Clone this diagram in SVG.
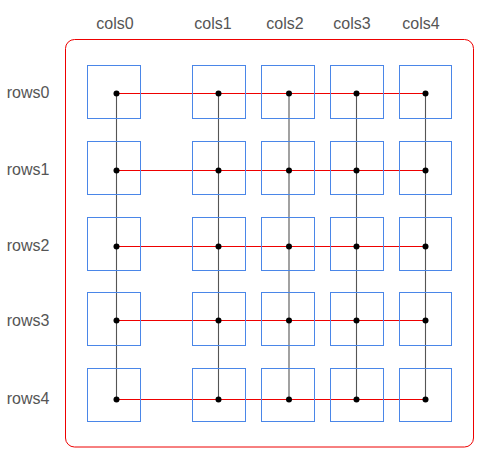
<svg xmlns="http://www.w3.org/2000/svg" width="488" height="463" viewBox="0 0 488 463">
<style>
.lbl{font-family:"Liberation Sans",Arial,sans-serif;font-size:16px;fill:#555;text-anchor:middle}
.box{fill:none;stroke:#4a86e8;stroke-width:1}
.h{stroke:#e00;stroke-width:1;fill:none}
.v{stroke:#555;stroke-width:1.1;fill:none}
.dot{fill:#000}
</style>
<rect id="container" x="65.5" y="39.5" width="408" height="407.5" rx="9" fill="none" stroke="#e00" stroke-width="1"/>
<g id="col-labels">
<text class="lbl" x="115" y="29">cols0</text>
<text class="lbl" x="213" y="29">cols1</text>
<text class="lbl" x="285" y="29">cols2</text>
<text class="lbl" x="352" y="29">cols3</text>
<text class="lbl" x="421" y="29">cols4</text>
</g>
<g id="row-labels">
<text class="lbl" x="28" y="98">rows0</text>
<text class="lbl" x="28" y="175">rows1</text>
<text class="lbl" x="28" y="251">rows2</text>
<text class="lbl" x="28" y="326">rows3</text>
<text class="lbl" x="28" y="404">rows4</text>
</g>
<g id="connectors">
<line class="h" x1="116" y1="93.5" x2="426" y2="93.5"/>
<line class="h" x1="116" y1="170.5" x2="426" y2="170.5"/>
<line class="h" x1="116" y1="246.5" x2="426" y2="246.5"/>
<line class="h" x1="116" y1="320.5" x2="426" y2="320.5"/>
<line class="h" x1="116" y1="399.5" x2="426" y2="399.5"/>
<line class="v" x1="116.5" y1="93" x2="116.5" y2="399"/>
<line class="v" x1="218.5" y1="93" x2="218.5" y2="399"/>
<line class="v" x1="289" y1="93" x2="289" y2="399"/>
<line class="v" x1="356.5" y1="93" x2="356.5" y2="399"/>
<line class="v" x1="425.5" y1="93" x2="425.5" y2="399"/>
</g>
<g id="nodes">
<g id="n00"><rect class="box" x="87.5" y="65.5" width="53" height="53"/><circle class="dot" cx="116.5" cy="93.5" r="3"/></g>
<g id="n01"><rect class="box" x="192.5" y="65.5" width="53" height="53"/><circle class="dot" cx="218.5" cy="93.5" r="3"/></g>
<g id="n02"><rect class="box" x="261.5" y="65.5" width="53" height="53"/><circle class="dot" cx="289" cy="93.5" r="3"/></g>
<g id="n03"><rect class="box" x="330.5" y="65.5" width="53" height="53"/><circle class="dot" cx="356.5" cy="93.5" r="3"/></g>
<g id="n04"><rect class="box" x="399.5" y="65.5" width="52" height="53"/><circle class="dot" cx="425.5" cy="93.5" r="3"/></g>
<g id="n10"><rect class="box" x="87.5" y="141.5" width="53" height="53"/><circle class="dot" cx="116.5" cy="170.5" r="3"/></g>
<g id="n11"><rect class="box" x="192.5" y="141.5" width="53" height="53"/><circle class="dot" cx="218.5" cy="170.5" r="3"/></g>
<g id="n12"><rect class="box" x="261.5" y="141.5" width="53" height="53"/><circle class="dot" cx="289" cy="170.5" r="3"/></g>
<g id="n13"><rect class="box" x="330.5" y="141.5" width="53" height="53"/><circle class="dot" cx="356.5" cy="170.5" r="3"/></g>
<g id="n14"><rect class="box" x="399.5" y="141.5" width="52" height="53"/><circle class="dot" cx="425.5" cy="170.5" r="3"/></g>
<g id="n20"><rect class="box" x="87.5" y="217.5" width="53" height="53"/><circle class="dot" cx="116.5" cy="246.5" r="3"/></g>
<g id="n21"><rect class="box" x="192.5" y="217.5" width="53" height="53"/><circle class="dot" cx="218.5" cy="246.5" r="3"/></g>
<g id="n22"><rect class="box" x="261.5" y="217.5" width="53" height="53"/><circle class="dot" cx="289" cy="246.5" r="3"/></g>
<g id="n23"><rect class="box" x="330.5" y="217.5" width="53" height="53"/><circle class="dot" cx="356.5" cy="246.5" r="3"/></g>
<g id="n24"><rect class="box" x="399.5" y="217.5" width="52" height="53"/><circle class="dot" cx="425.5" cy="246.5" r="3"/></g>
<g id="n30"><rect class="box" x="87.5" y="292.5" width="53" height="53"/><circle class="dot" cx="116.5" cy="320.5" r="3"/></g>
<g id="n31"><rect class="box" x="192.5" y="292.5" width="53" height="53"/><circle class="dot" cx="218.5" cy="320.5" r="3"/></g>
<g id="n32"><rect class="box" x="261.5" y="292.5" width="53" height="53"/><circle class="dot" cx="289" cy="320.5" r="3"/></g>
<g id="n33"><rect class="box" x="330.5" y="292.5" width="53" height="53"/><circle class="dot" cx="356.5" cy="320.5" r="3"/></g>
<g id="n34"><rect class="box" x="399.5" y="292.5" width="52" height="53"/><circle class="dot" cx="425.5" cy="320.5" r="3"/></g>
<g id="n40"><rect class="box" x="87.5" y="368.5" width="53" height="53"/><circle class="dot" cx="116.5" cy="399.5" r="3"/></g>
<g id="n41"><rect class="box" x="192.5" y="368.5" width="53" height="53"/><circle class="dot" cx="218.5" cy="399.5" r="3"/></g>
<g id="n42"><rect class="box" x="261.5" y="368.5" width="53" height="53"/><circle class="dot" cx="289" cy="399.5" r="3"/></g>
<g id="n43"><rect class="box" x="330.5" y="368.5" width="53" height="53"/><circle class="dot" cx="356.5" cy="399.5" r="3"/></g>
<g id="n44"><rect class="box" x="399.5" y="368.5" width="52" height="53"/><circle class="dot" cx="425.5" cy="399.5" r="3"/></g>
</g>
</svg>
